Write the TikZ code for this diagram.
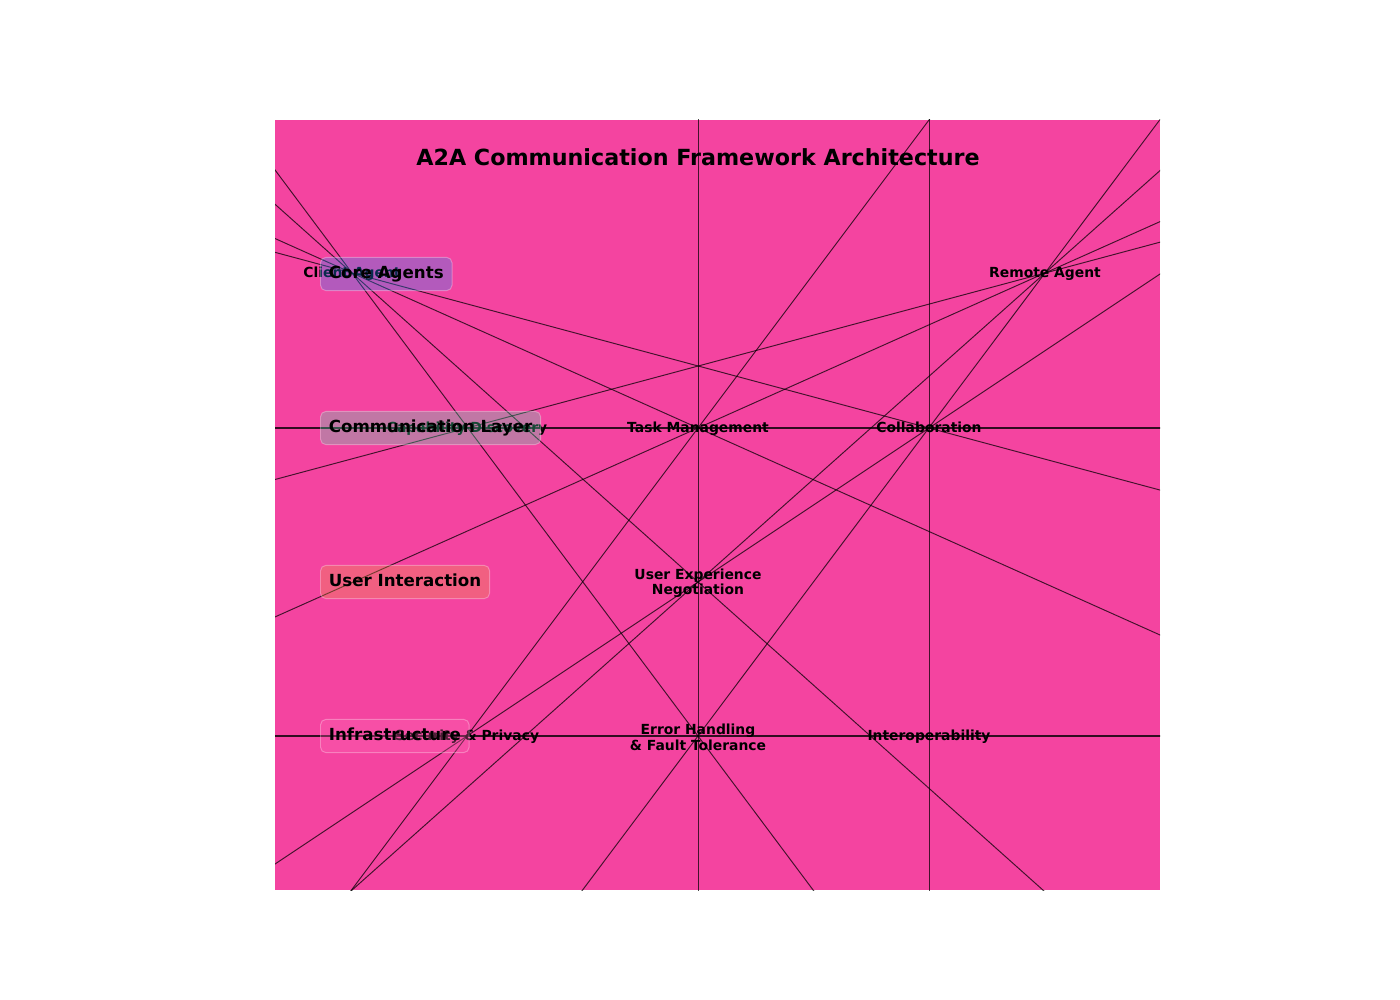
\documentclass[tikz,border=0pt]{standalone}
\usepackage{fontspec}
\setmainfont{DejaVu Sans}
\definecolor{bgpink}{RGB}{244,68,160}
\definecolor{corec}{RGB}{30,144,255}
\definecolor{commc}{RGB}{77,240,177}
\definecolor{userc}{RGB}{235,160,60}
\definecolor{infrac}{RGB}{255,105,180}
\begin{document}
\begin{tikzpicture}[x=0.72pt,y=-0.72pt,
  lbl/.style={font=\bfseries\fontsize{10}{11}\selectfont, align=center, inner sep=0pt, text height=9.3pt, text depth=2.4pt},
  mlbl/.style={font=\bfseries\fontsize{10}{11}\selectfont, align=center, inner sep=0pt, yshift=-1pt},
  edge/.style={draw=black, draw opacity=0.72, line width=0.7pt, shorten <=-1200pt, shorten >=-1200pt},
  hedge/.style={edge, line width=1.3pt, draw opacity=0.8},
  layer/.style={anchor=west, font=\bfseries\fontsize{12}{14}\selectfont, rounded corners=4pt,
    fill opacity=0.3, text opacity=1, draw=white, draw opacity=0.3, line width=0.7pt,
    inner xsep=6pt, inner ysep=5.75pt, text height=9.5pt, text depth=3pt}]
\useasboundingbox (0,0) rectangle (1400,1000);
\fill[bgpink] (275,120) rectangle (1160,890);
% node points and labels
\coordinate (ux) at (698,582);
\coordinate (err) at (698,736);
\node[lbl] (client) at (352,273) {Client Agent};
\node[lbl] (remote) at (1045,273) {Remote Agent};
\node[lbl] (disc) at (467,428) {Capability Discovery};
\node[lbl] (task) at (698,428) {Task Management};
\node[lbl] (collab) at (929,428) {Collaboration};
\node[mlbl] (uxlabel) at (ux) {User Experience\\Negotiation};
\node[lbl] (sec) at (467,736) {Security \& Privacy};
\node[mlbl] (errlabel) at (err) {Error Handling\\\& Fault Tolerance};
\node[lbl] (interop) at (929,736) {Interoperability};
% connectors, extended to the frame
\begin{scope}
\clip (275,120) rectangle (1160,890);
\draw[edge] (client.center) -- (task.center);
\draw[edge] (client.center) -- (collab.center);
\draw[edge] (client.center) -- (ux);
\draw[edge] (client.center) -- (err);
\draw[edge] (remote.center) -- (task.center);
\draw[edge] (remote.center) -- (disc.center);
\draw[edge] (remote.center) -- (ux);
\draw[edge] (remote.center) -- (err);
\draw[edge] (collab.center) -- (sec.center);
\draw[edge] (task.center) -- (sec.center);
\draw[hedge] (disc.center) -- (collab.center);
\draw[hedge] (sec.center) -- (interop.center);
\draw[edge] (task.center) -- (err);
\draw[edge] (collab.center) -- (interop.center);
\end{scope}
% layer labels
\node[layer, fill=corec] (lcore) at (320,274) {Core Agents};
\node[layer, fill=commc] (lcomm) at (320,428) {Communication Layer};
\node[layer, fill=userc] (luser) at (320,582) {User Interaction};
\node[layer, fill=infrac] (linfra) at (320,736) {Infrastructure};
% title
\node[font=\bfseries\fontsize{16}{19}\selectfont, inner sep=0pt] (title) at (698,157) {A2A Communication Framework Architecture};
\end{tikzpicture}
\end{document}
